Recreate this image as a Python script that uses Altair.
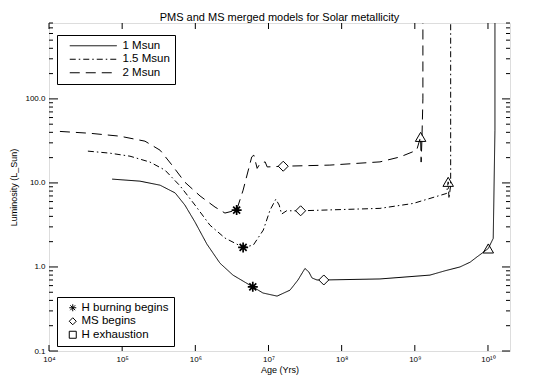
import altair as alt
import pandas as pd

# ---------------- data ----------------
series = ["1 Msun", "1.5 Msun", "2 Msun"]
dashes = [[1, 0], [6, 3, 1.5, 3], [10, 6]]

age_1 = [7.3e4, 1.75e5, 3.3e5, 5.3e5, 7.2e5, 9.9e5, 1.44e6, 2.17e6, 3.27e6, 6.1e6,
         8.4e6, 1.31e7, 1.97e7, 2.53e7, 3.15e7, 3.57e7, 3.93e7, 4.6e7, 5.7e7, 3.34e8,
         1.61e9, 2.58e9, 4.14e9, 5.7e9, 7.1e9, 8.5e9, 1.01e10, 1.18e10, 1.245e10, 1.245e10]
lum_1 = [11.1, 10.5, 9.4, 7.6, 5.45, 3.42, 1.87, 1.11, 0.80, 0.58,
         0.49, 0.45, 0.53, 0.70, 0.96, 0.87, 0.74, 0.70, 0.70, 0.72,
         0.80, 0.90, 1.0, 1.14, 1.32, 1.48, 1.66, 2.19, 42, 800]

age_15 = [3.4e4, 6.8e4, 1.28e5, 2.4e5, 3.85e5, 6.2e5, 9.9e5, 1.58e6, 2.54e6, 4.5e6,
          6.2e6, 8.5e6, 1.05e7, 1.26e7, 1.40e7, 1.51e7, 1.77e7, 2.75e7, 3.34e8, 9.5e8,
          2.72e9, 2.86e9, 2.93e9, 3.09e9, 3.09e9]
lum_15 = [23.9, 22.6, 20.8, 17.7, 14.2, 9.2, 5.45, 3.15, 2.21, 1.71,
          1.82, 2.75, 4.75, 6.4, 5.45, 4.26, 4.66, 4.66, 4.98, 5.7,
          7.5, 10.3, 6.5, 9.4, 800]

age_2 = [1.41e4, 3.6e4, 9.3e4, 2.05e5, 3.3e5, 4.8e5, 7.2e5, 1.16e6, 1.86e6, 2.54e6,
         3.67e6, 4.5e6, 5.9e6, 6.3e6, 7.0e6, 7.7e6, 9.0e6, 9.6e6, 1.59e7, 6.9e7,
         3.34e8, 6.3e8, 1.06e9, 1.20e9, 1.22e9, 1.25e9, 1.29e9, 1.29e9]
lum_2 = [41, 39, 36, 31.4, 24.5, 16.3, 10.2, 7.0, 5.16, 4.38,
         4.75, 8.2, 20.4, 21.4, 14.9, 17.1, 17.8, 15.5, 15.8, 16.3,
         17.8, 20.4, 24.5, 35.3, 17.7, 32, 100, 800]

events = ["H burning begins", "MS begins", "H exhaustion"]
burn_age = [6.1e6, 4.5e6, 3.67e6]
burn_lum = [0.58, 1.71, 4.75]
ms_age = [5.7e7, 2.75e7, 1.59e7]
ms_lum = [0.70, 4.66, 15.8]
hex_age = [1.01e10, 2.86e9, 1.20e9]
hex_lum = [1.66, 10.3, 35.3]

x_ticks = [1e4, 1e5, 1e6, 1e7, 1e8, 1e9, 1e10]
x_tick_labels = ["10⁴", "10⁵", "10⁶", "10⁷", "10⁸", "10⁹", "10¹⁰"]
y_major = [0.1, 1, 10, 100]
y_minor = [0.2, 0.3, 0.4, 0.5, 0.6, 0.7, 0.8, 0.9,
           2, 3, 4, 5, 6, 7, 8, 9,
           20, 30, 40, 50, 60, 70, 80, 90,
           200, 300, 400, 500, 600, 700, 800]

# ---------------- tables ----------------
rows = []
for name, ages, lums in zip(series, [age_1, age_15, age_2], [lum_1, lum_15, lum_2]):
    for i, (a, l) in enumerate(zip(ages, lums)):
        rows.append({"mass": name, "age": a, "lum": l, "idx": i})
tracks = pd.DataFrame(rows)

ev_rows = []
for ev, ages, lums in zip(events, [burn_age, ms_age, hex_age], [burn_lum, ms_lum, hex_lum]):
    for name, a, l in zip(series, ages, lums):
        ev_rows.append({"event": ev, "mass": name, "age": a, "lum": l})
marks_df = pd.DataFrame(ev_rows)

W, H = 461, 328
FONT = "Liberation Sans"
asterisk = "M-1,0L1,0M0,-1L0,1M-0.7,-0.7L0.7,0.7M-0.7,0.7L0.7,-0.7"
line_sym = "M0.5,0H12.25"

xscale = alt.Scale(type="log", domain=[1e4, 2e10], nice=False)
yscale = alt.Scale(type="log", domain=[0.1, 800], nice=False)

label_expr = " : ".join(
    f"datum.value < {v * 1.5:.6g} ? '{lab}'" for v, lab in zip(x_ticks, x_tick_labels)
) + " : ''"

xaxis = alt.Axis(values=x_ticks, labelExpr=label_expr, title="Age (Yrs)", grid=False,
                 ticks=False, domain=False, labelFlush=False, labelOverlap=False,
                 labelFontSize=8, labelFont=FONT, labelPadding=4, labelColor="black",
                 titleFont=FONT, titleFontSize=9, titleFontWeight="normal",
                 titlePadding=2, titleColor="black")
yaxis = alt.Axis(values=y_major, format=".1f", title="Luminosity (L_Sun)", grid=False,
                 ticks=False, domain=False, labelOverlap=False,
                 labelFontSize=8, labelFont=FONT, labelPadding=4, labelColor="black",
                 titleFont=FONT, titleFontSize=9, titleFontWeight="normal",
                 titlePadding=6, titleColor="black")

X = lambda f: alt.X(f, scale=xscale, axis=xaxis)
Y = lambda f: alt.Y(f, scale=yscale, axis=yaxis)

lines = alt.Chart(tracks).mark_line(color="black", strokeWidth=1, clip=True).encode(
    x=X("age:Q"),
    y=Y("lum:Q"),
    strokeDash=alt.StrokeDash(
        "mass:N",
        scale=alt.Scale(domain=series, range=dashes),
        legend=alt.Legend(orient="none", legendX=8, legendY=12, title=None,
                          strokeColor="black", fillColor="white", padding=5,
                          cornerRadius=0, labelFont=FONT, labelFontSize=11.5,
                          labelColor="black", symbolType=line_sym, symbolSize=64,
                          symbolStrokeColor="black", symbolStrokeWidth=1,
                          labelOffset=49, rowPadding=0.5),
    ),
    order="idx:Q",
)

pts = alt.Chart(marks_df).transform_filter(
    alt.datum.event != "H exhaustion"
).mark_point(filled=False, color="black", size=100, opacity=1).encode(
    x=X("age:Q"),
    y=Y("lum:Q"),
    shape=alt.Shape(
        "event:N",
        scale=alt.Scale(domain=events, range=[asterisk, "diamond", "square"]),
        legend=alt.Legend(orient="none", legendX=8, legendY=274, title=None,
                          strokeColor="black", fillColor="white", padding=5,
                          cornerRadius=0, labelFont=FONT, labelFontSize=11.5,
                          labelColor="black", symbolSize=49, symbolOffset=5,
                          symbolStrokeColor="black", symbolStrokeWidth=1,
                          labelOffset=3, rowPadding=0.5),
    ),
    strokeWidth=alt.condition(alt.datum.event == "H burning begins", alt.value(1.7), alt.value(1)),
    fill=alt.condition(alt.datum.event == "MS begins", alt.value("white"), alt.value("transparent")),
)

tri = alt.Chart(marks_df).transform_filter(
    alt.datum.event == "H exhaustion"
).mark_point(filled=False, color="black", size=110, shape="triangle-up", strokeWidth=1, opacity=1).encode(
    x=X("age:Q"),
    y=Y("lum:Q"),
)

xt = pd.DataFrame({"age": x_ticks})
ymaj = pd.DataFrame({"lum": y_major})
ymin = pd.DataFrame({"lum": y_minor})

def xrule(y0, y1):
    return alt.Chart(xt).mark_rule(color="black", strokeWidth=1).encode(
        x=X("age:Q"), y=alt.value(y0), y2=alt.value(y1))

def yrule(df, x0, x1):
    return alt.Chart(df).mark_rule(color="black", strokeWidth=1).encode(
        y=Y("lum:Q"), x=alt.value(x0), x2=alt.value(x1))

ticks = [
    xrule(H, H - 6), xrule(0, 6),
    yrule(ymaj, 0, 9), yrule(ymin, 0, 4),
    yrule(ymaj, W, W - 8), yrule(ymin, W, W - 4),
]

chart = alt.layer(lines, pts, tri, *ticks).properties(
    width=W, height=H,
    autosize="none",
    padding={"left": 41, "top": 15, "right": 20, "bottom": 26},
    title=alt.TitleParams("PMS and MS merged models for Solar metallicity",
                          font=FONT, fontSize=11, fontWeight="normal", color="black",
                          anchor="middle", offset=0),
).configure_view(stroke="black", strokeWidth=1.2).configure(background="white")

chart.save("out.html", embed_options={"renderer": "svg", "actions": False})
